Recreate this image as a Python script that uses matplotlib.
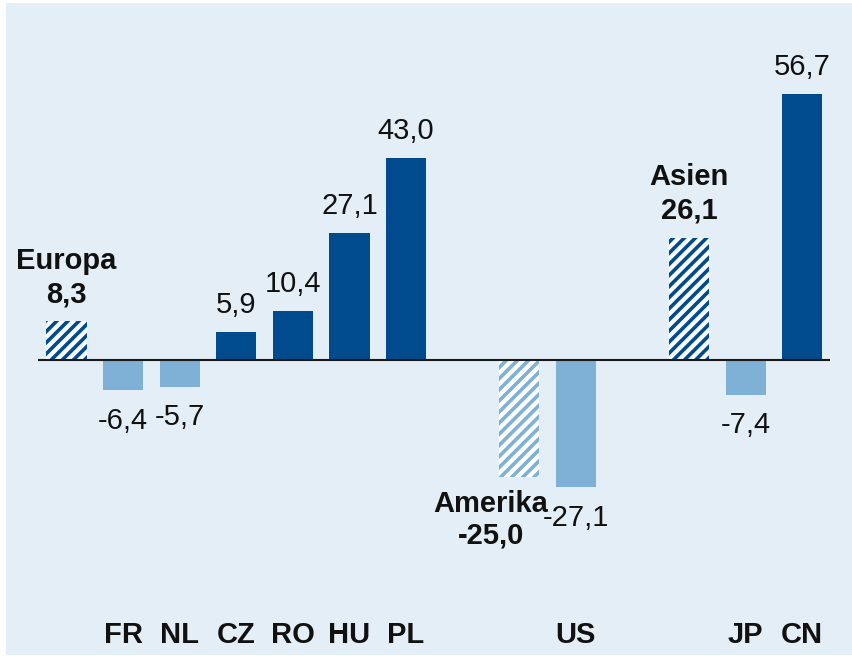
import matplotlib
matplotlib.use("Agg")
import matplotlib.pyplot as plt

# slot positions along the x axis (gaps between regions left empty)
countries = ["FR", "NL", "CZ", "RO", "HU", "PL", "US", "JP", "CN"]
country_pos = [1, 2, 3, 4, 5, 6, 9, 12, 13]
country_vals = [-6.4, -5.7, 5.9, 10.4, 27.1, 43.0, -27.1, -7.4, 56.7]

regions = ["Europa", "Amerika", "Asien"]
region_pos = [0, 8, 11]
region_vals = [8.3, -25.0, 26.1]

DARK = "#004b8d"
LIGHT = "#7fb0d5"
BG = "#e3eef6"
INK = "#111111"
FS = 21


def fmt(v):
    return f"{v:.1f}".replace(".", ",")


plt.rcParams["font.family"] = ["Liberation Sans", "DejaVu Sans"]
plt.rcParams["hatch.linewidth"] = 2.6

fig = plt.figure(figsize=(8.52, 6.62), dpi=100)
ax = fig.add_axes([6 / 852, 7 / 662, 846 / 852, 652 / 662])
ax.set_facecolor(BG)
ax.set_xlim(-1.07, 13.88)
ax.set_ylim(-62.9, 76.1)
for s in ax.spines.values():
    s.set_visible(False)
ax.set_xticks([])
ax.set_yticks([])

W = 0.71
cols = [DARK if v > 0 else LIGHT for v in country_vals]
ax.bar(country_pos, country_vals, width=W, color=cols, linewidth=0, zorder=2)

rcols = [DARK if v > 0 else LIGHT for v in region_vals]
for x, v, c in zip(region_pos, region_vals, rcols):
    ax.bar(x, v, width=W, color="white", edgecolor=c, hatch="///",
           linewidth=0, zorder=2)

ax.hlines(0, -0.5, 13.5, color="#1a1a1a", linewidth=1.5, zorder=3)

# value labels for countries
for x, v in zip(country_pos, country_vals):
    if v > 0:
        ax.annotate(fmt(v), (x, v), xytext=(0, 13.7), textcoords="offset points",
                    ha="center", va="baseline", fontsize=FS, color=INK)
    else:
        ax.annotate(fmt(v), (x, v), xytext=(0, -12), textcoords="offset points",
                    ha="center", va="top", fontsize=FS, color=INK)

# region labels: bold name above bold value
region_dx = [0, -0.5, 0]
for x, v, name, dx in zip(region_pos, region_vals, regions, region_dx):
    if v > 0:
        ax.annotate(fmt(v), (x + dx, v), xytext=(0, 13.5), textcoords="offset points",
                    ha="center", va="baseline", fontsize=FS, fontweight="bold", color=INK)
        ax.annotate(name, (x + dx, v), xytext=(0, 37.5), textcoords="offset points",
                    ha="center", va="baseline", fontsize=FS, fontweight="bold", color=INK)
    else:
        ax.annotate(name, (x + dx, v), xytext=(0, -9.4), textcoords="offset points",
                    ha="center", va="top", fontsize=FS, fontweight="bold", color=INK)
        ax.annotate(fmt(v), (x + dx, v), xytext=(0, -48), textcoords="offset points",
                    ha="center", va="baseline", fontsize=FS, fontweight="bold", color=INK)

# country names along the bottom
for x, name in zip(country_pos, countries):
    ax.text(x, -60.3, name, ha="center", va="baseline", fontsize=FS,
            fontweight="bold", color=INK)

fig.savefig("out.png", dpi=100, facecolor="white")
